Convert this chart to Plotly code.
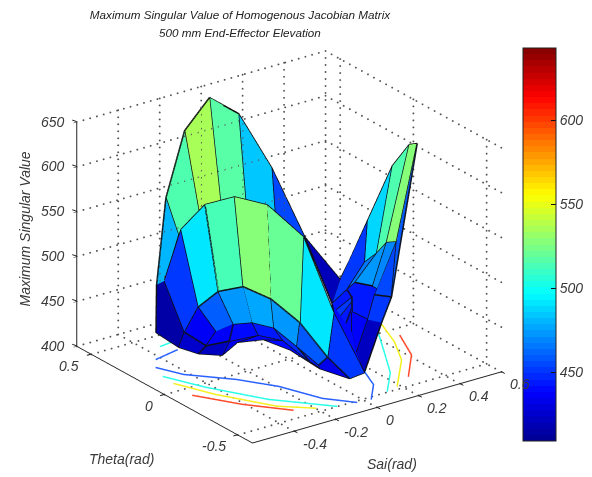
import numpy as np
import plotly.graph_objects as go

# surface vertices: Sai, Theta, Maximum Singular Value
sai = [-.17,-.08,.04,.18,.34,.50,.60,-.11,0,.10,.22,.36,-.177,-.215,-.294,
       -.154,-.059,.028,.116,.233,.176,-.306,-.265,-.217,-.131,-.083,-.076,-.053,
       -.221,-.17,-.112,-.058,-.041,-.011,-.284,-.205,-.072,-.004,-.007,
       -.307,-.266,-.194,-.098,.006,.047,.038,.075,.156,
       .6,.6,.6,.6,.6,.5,.5,.5,.5,.45,.45,.45,.45,
       .4,.4,.4,.366,.35,.4,.4,.4,.4,.4,.4,.4,.4,.25]
theta = [.6,.6,.6,.6,.6,.6,.5,.6,.6,.6,.6,.6,.6,.6,.492,
         .519,.49,.411,.312,.232,-.056,.28,.243,.176,.127,.005,-.182,-.338,
         .184,.139,.093,.02,-.112,-.22,.163,.118,.107,.036,-.153,
         .318,.241,.181,.214,.184,.058,-.157,-.307,-.294,
         .434,.312,.143,.028,-.026,.19,.109,.042,-.026,.24,.186,.065,.031,
         .272,.245,.218,.135,.066,.136,.136,.136,.136,.028,-.019,-.134,-.066,-.108]
height = [537,606,635,608,537,449,404,492,496,500,492,472,445,443,405,
          508,532,542,536,500,445,425,454,474,478,472,462,436,
          429,438,440,437,427,414,419,423,422,418,411,
          405,402,401,406,405,402,401,401,401,
          432,487,563,597,603,458,475,493,500,426,439,446,446,
          411,406,401,401,401,430,425,419,414,415,447,455,420,401]
faces = [[0,1,8,7],[1,2,9,8],[2,3,10,9],[3,4,11,10],[4,5,11],[5,6,61],[0,7,12,13],
         [15,16,23,22],[16,17,24,23],[17,18,25,24],[18,19,26,25],[19,20,27,26],
         [22,23,29,28],[23,24,30,29],[24,25,31,30],[25,26,32,31],[26,27,33,32],
         [12,15,22,21],[21,22,28,34],[12,21,39,14,13],[21,34,40,39],
         [28,29,35,34],[29,30,36,35],[30,31,37,36],[31,32,38,37],[32,33,45,38],
         [27,20,47,46],[33,27,46,45],
         [34,35,41,40],[35,36,42,41],[36,37,43,42],[37,38,44,43],[38,45,44],
         [61,62,63,64,65,74,47,20],
         [6,48,49,53,57,61],[49,50,54,53],[50,51,55,54],[51,52,56,55],[52,72,56],
         [53,54,58,57],[54,55,59,58],[55,56,60,59],[56,72,71,60],
         [61,57,66,62],[62,66,67,63],[63,67,68,64],[64,68,69,65],
         [57,58,59,60,71,70,69,68,67,66],[71,72,73,70],[69,70,74,65],[70,73,47,74],[65,74,47]]
face_values = [515,535,518,485,455,420,480,
               491,512,527,520,491,
               460,472,478,472,458,
               452,435,416,424,
               436,441,445,448,445,
               452,432,
               422,432,438,440,436,
               440,
               452,487,515,527,458,
               465,472,470,455,
               445,450,445,440,
               445,452,438,422,415]

# contour lines on the floor (level, Sai, Theta)
contours = [
    (450, [-.477,-.428,-.29,-.195,-.126,-.039], [.236,.113,-.05,-.207,-.406,-.521]),
    (450, [-.431,-.304], [.3,.33]),
    (450, [.162,.116,.022], [-.286,-.413,-.53]),
    (500, [-.343,-.273], [.396,.406]),
    (500, [-.506,-.431,-.304,-.125], [.146,-.045,-.287,-.506]),
    (500, [.424,.334,.238,.119], [-.012,-.179,-.355,-.502]),
    (550, [-.512,-.443,-.316,-.202], [.064,-.123,-.363,-.472]),
    (550, [.49,.429,.348,.179], [.062,-.113,-.276,-.485]),
    (600, [-.521,-.415,-.286], [-.077,-.267,-.436]),
    (600, [.485,.408,.272], [-.069,-.259,-.43]),
]
contour_colors = {450: "#2a62ff", 500: "#2affe8", 550: "#f5f01e", 600: "#ff4a2a"}

sai_ticks = [-0.4, -0.2, 0, 0.2, 0.4, 0.6]
theta_ticks = [-0.5, 0, 0.5]
z_ticks = [400, 450, 500, 550, 600, 650]
color_ticks = [450, 500, 550, 600]
sai_range = [-0.6, 0.6]
theta_range = [-0.6, 0.6]
z_range = [400, 650]
c_range = [409, 643]


def jet_rgb(f):
    stops = [(0, (0, 0, 143)), (.125, (0, 0, 255)), (.375, (0, 255, 255)),
             (.625, (255, 255, 0)), (.875, (255, 0, 0)), (1, (128, 0, 0))]
    for (f0, c0), (f1, c1) in zip(stops, stops[1:]):
        if f <= f1:
            t = (f - f0) / (f1 - f0)
            return "rgb(%d,%d,%d)" % tuple(round(a + (b - a) * t) for a, b in zip(c0, c1))
    return "rgb(128,0,0)"


N = 64
scale = []
for k in range(N):
    col = jet_rgb((k + .5) / N)
    scale += [[k / N, col], [(k + 1) / N, col]]

ii, jj, kk, cell, ex, ey, ez = [], [], [], [], [], [], []
for f, v in zip(faces, face_values):
    for a, b in zip(f[1:], f[2:]):
        ii.append(f[0]); jj.append(a); kk.append(b); cell.append(v)
    for p in f + [f[0]]:
        ex.append(sai[p]); ey.append(theta[p]); ez.append(height[p])
    ex.append(None); ey.append(None); ez.append(None)

FONT = "Liberation Sans, Arial"
TICK = dict(family=FONT, size=14, color="#3a3a3a", style="italic")
CB_LEFT, CB_RIGHT, CB_BOTTOM, CB_TOP = 523/592, 556/592, 36/477, 429/477
fig = go.Figure()
fig.add_trace(go.Mesh3d(
    x=sai, y=theta, z=height, i=ii, j=jj, k=kk, intensity=cell, intensitymode="cell",
    colorscale=scale, cmin=c_range[0], cmax=c_range[1], flatshading=True,
    lighting=dict(ambient=1, diffuse=0, specular=0, roughness=1, fresnel=0),
    hoverinfo="skip",
    colorbar=dict(x=CB_LEFT, xanchor="left", y=CB_BOTTOM, yanchor="bottom",
                  thicknessmode="pixels", thickness=33, lenmode="pixels", len=393,
                  xpad=0, ypad=0, outlinecolor="#222", outlinewidth=1,
                  tickvals=color_ticks, ticks="inside", ticklen=5, tickcolor="#111",
                  tickfont=TICK)))
fig.add_trace(go.Scatter3d(x=ex, y=ey, z=ez, mode="lines", showlegend=False, hoverinfo="skip",
                           line=dict(color="#101010", width=3)))
for lev, cx, cy in contours:
    fig.add_trace(go.Scatter3d(x=cx, y=cy, z=[z_range[0] + 1] * len(cx), mode="lines", showlegend=False,
                               hoverinfo="skip", line=dict(color=contour_colors[lev], width=3)))

# dotted grid on the floor and the two back walls (drawn as fine dots)
gx, gy, gz = [], [], []
def seg(p, q, n):
    t = np.linspace(0, 1, n)
    gx.extend(p[0] + (q[0] - p[0]) * t); gy.extend(p[1] + (q[1] - p[1]) * t); gz.extend(p[2] + (q[2] - p[2]) * t)
xa, xb = sai_range; ya, yb = theta_range; za, zb = z_range
for t in sai_ticks:
    seg((t, ya, za), (t, yb, za), 30); seg((t, yb, za), (t, yb, zb), 33)
for t in theta_ticks:
    seg((xa, t, za), (xb, t, za), 38); seg((xb, t, za), (xb, t, zb), 33)
for t in z_ticks:
    seg((xa, yb, t), (xb, yb, t), 38); seg((xb, yb, t), (xb, ya, t), 30)
seg((xb, yb, za), (xb, yb, zb), 33)
fig.add_trace(go.Scatter3d(x=gx, y=gy, z=gz, mode="markers", showlegend=False, hoverinfo="skip",
                           marker=dict(color="#555", size=1.1, line=dict(width=0))))

def axis(vals, rng):
    return dict(title=dict(text=""), range=rng, tickvals=vals, ticks="outside",
                ticklen=4, tickcolor="#222", showticklabels=False, showgrid=False, zeroline=False,
                showbackground=False, showline=True, linecolor="#222", linewidth=2,
                showspikes=False)

def label(x, y, z, text, anchor, dx, dy, angle=0):
    return dict(x=x, y=y, z=z, text=text, showarrow=False, xanchor=anchor, yanchor="middle",
                xshift=dx, yshift=dy, textangle=angle, font=TICK)

def tick(x, y, z, dx, dy):
    return dict(x=x, y=y, z=z, text="\u00a0", font=dict(size=1), showarrow=True, arrowhead=0,
                arrowwidth=1, arrowcolor="#222", ax=dx, ay=dy, standoff=0, startstandoff=0,
                bgcolor="rgba(0,0,0,0)")

notes = [label(t, ya, za, f"{t:g}", "left", 7, -13) for t in sai_ticks]
notes += [label(xa, t, za, f"{t:g}", "right", -10, -12) for t in theta_ticks]
notes += [label(xa, yb, t, f"{t:g}", "right", -10, 0) for t in z_ticks]
notes += [label(0, ya, za, "Sai(rad)", "center", 15, -57),
          label(xa, 0, za, "Theta(rad)", "center", -43, -65),
          label(xa, yb, 525, "Maximum Singular Value", "center", -52, 5, -90)]
notes += [tick(t, ya, za, 5, 3) for t in sai_ticks]
notes += [tick(xa, t, za, -6, 2) for t in theta_ticks]
notes += [tick(xa, yb, t, -6, -2) for t in z_ticks]

cb_ticks = []
for t in color_ticks:
    yy = CB_BOTTOM + (CB_TOP - CB_BOTTOM) * (t - c_range[0]) / (c_range[1] - c_range[0])
    cb_ticks.append(dict(type="line", xref="paper", yref="paper", x0=CB_LEFT, x1=CB_LEFT + 5/592,
                         y0=yy, y1=yy, line=dict(color="#111", width=1)))

fig.update_layout(
    width=592, height=477, paper_bgcolor="white", showlegend=False,
    margin=dict(l=0, r=0, t=0, b=0), shapes=cb_ticks,
    title=dict(text="Maximum Singular Value of Homogenous Jacobian Matrix",
               x=240/592, xanchor="center", y=1-15/477, yanchor="middle",
               font=dict(family=FONT, size=11.7, color="#222", style="italic")),
    annotations=[dict(text="500 mm End-Effector Elevation", xref="paper", yref="paper",
                      x=240/592, y=1-33/477, xanchor="center", yanchor="middle", showarrow=False,
                      font=dict(family=FONT, size=11.7, color="#222", style="italic"))],
    scene=dict(
        domain=dict(x=[0, 578/592], y=[3.5/477, 457.5/477]),
        xaxis=axis(sai_ticks, sai_range),
        yaxis=axis(theta_ticks, theta_range),
        zaxis=axis(z_ticks, z_range),
        annotations=notes,
        aspectmode="manual", aspectratio=dict(x=1.351, y=1.324, z=1.076),
        camera=dict(eye=dict(x=-.537*1.44, y=-.745*1.44, z=.397*1.44), center=dict(x=0, y=0, z=0),
                    up=dict(x=0, y=0, z=1), projection=dict(type="orthographic")),
        bgcolor="white"))
fig.write_html("out.html", post_script="document.body.style.margin='0px';",
               config=dict(displayModeBar=False))
